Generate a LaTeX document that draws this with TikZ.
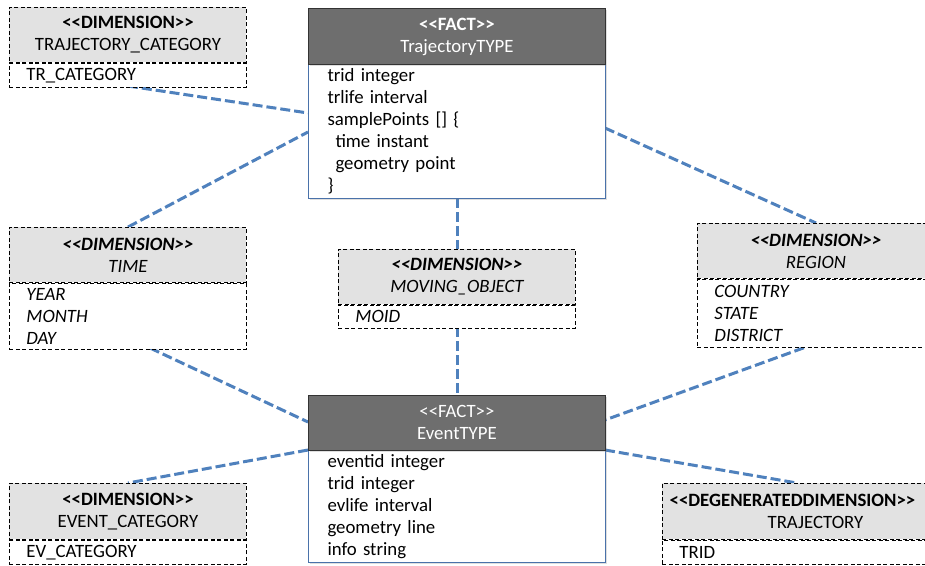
\documentclass[tikz,border=0pt]{standalone}
\usepackage{fontspec}
\setmainfont{Carlito}
\usetikzlibrary{calc,shadows}

\definecolor{linkblue}{RGB}{79,129,189}
\definecolor{factgray}{RGB}{110,110,110}
\definecolor{dimgray}{RGB}{226,226,226}
\definecolor{factedge}{RGB}{74,114,170}

\tikzset{
  txt/.style={font=\fontsize{18.8}{22}\selectfont},
  dimhead/.style={txt, draw=black, line width=0.9pt, dash pattern=on 4pt off 2.5pt,
    fill=dimgray, minimum width=237, minimum height=55, align=center,
    inner sep=0pt, anchor=north west},
  dimbody/.style={txt, draw=black, line width=0.9pt, dash pattern=on 4pt off 2.5pt,
    fill=white, text width=203pt, inner xsep=17pt, inner ysep=0pt, align=left,
    anchor=north west},
  facthead/.style={txt, draw=black!80, line width=0.9pt, fill=factgray, text=white,
    minimum width=297, minimum height=56, align=center, inner sep=0pt,
    anchor=north west, drop shadow={opacity=0.25, shadow xshift=1.5pt, shadow yshift=-1.5pt}},
  factbody/.style={txt, draw=factedge, line width=1pt, fill=white,
    text width=259pt, inner xsep=19pt, inner ysep=0pt, align=left, anchor=north west,
    drop shadow={opacity=0.25, shadow xshift=1.5pt, shadow yshift=-1.5pt}},
  link/.style={draw=linkblue, line width=3pt, dash pattern=on 10pt off 4pt},
}

\begin{document}
\begin{tikzpicture}[x=1pt, y=-1pt]
\useasboundingbox (0,0) rectangle (925,565);
\clip (0,0) rectangle (925,565);
\fill[white] (0,0) rectangle (925,565);

% connectors (drawn first, boxes sit on top)
\coordinate (c1a) at (128,86);
\coordinate (c1b) at (308,113);
\coordinate (c2a) at (128,227);
\coordinate (c2b) at (308,132);
\coordinate (c3a) at (605,128);
\coordinate (c3b) at (816,223);
\coordinate (c4a) at (457,198);
\coordinate (c4b) at (457,249);
\coordinate (c5a) at (457,327);
\coordinate (c5b) at (457,395);
\coordinate (c6a) at (150,348);
\coordinate (c6b) at (308,422);
\coordinate (c7a) at (817,343);
\coordinate (c7b) at (605,420);
\coordinate (c8a) at (308,450);
\coordinate (c8b) at (128,483);
\coordinate (c9a) at (605,450);
\coordinate (c9b) at (797,483);
\foreach \a/\b in {c1a/c1b,c2a/c2b,c3a/c3b,c4a/c4b,c5a/c5b,c6a/c6b,c7a/c7b,c8a/c8b,c9a/c9b}
  \draw[link] (\a) -- (\b);

% TRAJECTORY_CATEGORY
\node[dimhead] (trcath) at (9,7) {\textbf{<{}<DIMENSION>{}>}\\TRAJECTORY\_CATEGORY};
\node[dimbody, minimum height=24] (trcatb) at (trcath.south west) {TR\_CATEGORY};

% TrajectoryTYPE fact
\node[factbody, minimum height=134] (trajb) at (308,64)
  {trid integer\\trlife interval\\samplePoints [] \{\\\hspace*{8pt}time instant\\\hspace*{8pt}geometry point\\\}};
\node[facthead] (trajh) at (308,8) {\textbf{<{}<FACT>{}>}\\TrajectoryTYPE};

% TIME
\node[dimhead] (timeh) at (9,227) {\textbf{\itshape <{}<DIMENSION>{}>}\\\itshape TIME};
\node[dimbody, minimum height=66, font=\fontsize{18.8}{22}\selectfont\itshape] (timeb) at (timeh.south west) {YEAR\\MONTH\\DAY};

% MOVING_OBJECT
\node[dimhead] (moh) at (338,249) {\textbf{\itshape <{}<DIMENSION>{}>}\\\itshape MOVING\_OBJECT};
\node[dimbody, minimum height=23, font=\fontsize{18.8}{22}\selectfont\itshape] (mob) at (moh.south west) {MOID};

% REGION
\node[dimhead] (regh) at (697,223) {\textbf{\itshape <{}<DIMENSION>{}>}\\\itshape REGION};
\node[dimbody, minimum height=68, font=\fontsize{18.8}{22}\selectfont\itshape] (regb) at (regh.south west) {COUNTRY\\STATE\\DISTRICT};

% EventTYPE fact
\node[factbody, minimum height=112] (evb) at (308,450)
  {eventid integer\\trid integer\\evlife interval\\geometry line\\info string};
\node[facthead, minimum height=55] (evh) at (308,395) {<{}<FACT>{}>\\EventTYPE};

% EVENT_CATEGORY
\node[dimhead, minimum height=56] (evcath) at (9,483) {\textbf{<{}<DIMENSION>{}>}\\EVENT\_CATEGORY};
\node[dimbody, minimum height=24] (evcatb) at (evcath.south west) {EV\_CATEGORY};

% TRAJECTORY (degenerated dimension)
\node[dimhead, minimum height=56, minimum width=290] (trh) at (662,483)
  {\textbf{<{}<DEGENERATEDDIMENSION>{}>}\hspace*{30pt}\\\hspace*{16pt}TRAJECTORY};
\node[dimbody, minimum height=24, text width=256pt] (trb) at (trh.south west) {TRID};

\end{tikzpicture}
\end{document}
